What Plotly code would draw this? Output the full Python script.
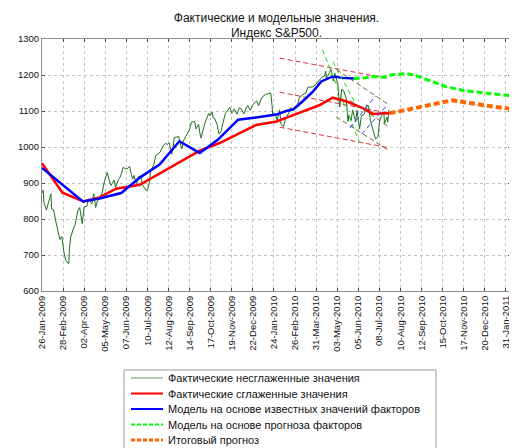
import plotly.graph_objects as go
import pandas as pd

# ---------------- data ----------------
actual_dates = [
    "2009-01-26", "2009-01-28", "2009-01-29", "2009-02-02", "2009-02-05", "2009-02-09", "2009-02-10",
    "2009-02-13", "2009-02-17", "2009-02-20", "2009-02-23", "2009-02-26", "2009-03-02", "2009-03-05",
    "2009-03-09", "2009-03-10", "2009-03-12", "2009-03-17", "2009-03-19", "2009-03-23", "2009-03-26",
    "2009-03-30", "2009-04-02", "2009-04-06", "2009-04-09", "2009-04-14", "2009-04-17", "2009-04-20",
    "2009-04-23", "2009-04-27", "2009-04-30", "2009-05-04", "2009-05-08", "2009-05-11", "2009-05-14",
    "2009-05-19", "2009-05-21", "2009-05-26", "2009-05-29", "2009-06-02", "2009-06-05", "2009-06-08",
    "2009-06-12", "2009-06-15", "2009-06-17", "2009-06-19", "2009-06-23", "2009-06-26", "2009-06-30",
    "2009-07-02", "2009-07-08", "2009-07-10", "2009-07-13", "2009-07-15", "2009-07-17", "2009-07-20",
    "2009-07-23", "2009-07-27", "2009-07-30", "2009-08-03", "2009-08-07", "2009-08-10", "2009-08-13",
    "2009-08-17", "2009-08-19", "2009-08-21", "2009-08-26", "2009-08-28", "2009-09-01", "2009-09-02",
    "2009-09-04", "2009-09-09", "2009-09-11", "2009-09-14", "2009-09-17", "2009-09-22", "2009-09-24",
    "2009-09-28", "2009-10-01", "2009-10-02", "2009-10-06", "2009-10-09", "2009-10-14", "2009-10-16",
    "2009-10-19", "2009-10-21", "2009-10-23", "2009-10-27", "2009-10-30", "2009-11-02", "2009-11-05",
    "2009-11-09", "2009-11-11", "2009-11-16", "2009-11-19", "2009-11-23", "2009-11-27", "2009-12-01",
    "2009-12-04", "2009-12-08", "2009-12-11", "2009-12-14", "2009-12-18", "2009-12-22", "2009-12-28",
    "2009-12-31", "2010-01-04", "2010-01-07", "2010-01-11", "2010-01-14", "2010-01-19", "2010-01-21",
    "2010-01-22", "2010-01-26", "2010-01-29", "2010-02-02", "2010-02-04", "2010-02-08", "2010-02-11",
    "2010-02-16", "2010-02-19", "2010-02-24", "2010-02-26", "2010-03-02", "2010-03-05", "2010-03-10",
    "2010-03-15", "2010-03-18", "2010-03-22", "2010-03-26", "2010-03-30", "2010-04-05", "2010-04-09",
    "2010-04-13", "2010-04-15", "2010-04-16", "2010-04-21", "2010-04-23", "2010-04-27", "2010-04-29",
    "2010-05-04", "2010-05-06", "2010-05-07", "2010-05-10", "2010-05-13", "2010-05-17", "2010-05-20",
    "2010-05-21", "2010-05-25", "2010-05-27", "2010-06-01", "2010-06-03", "2010-06-07", "2010-06-10",
    "2010-06-14", "2010-06-18", "2010-06-21", "2010-06-24", "2010-06-29", "2010-07-01", "2010-07-02",
    "2010-07-06", "2010-07-08", "2010-07-13", "2010-07-15", "2010-07-16", "2010-07-20", "2010-07-21",
    "2010-07-23",
]
actual_values = [
    872, 880, 846, 825, 845, 870, 828,
    827, 790, 770, 743, 752, 700, 682,
    676, 720, 750, 778, 785, 822, 832,
    787, 834, 835, 856, 842, 870, 832,
    851, 857, 872, 907, 929, 909, 893,
    908, 888, 910, 919, 944, 940, 939,
    946, 923, 911, 921, 895, 918, 919,
    896, 879, 880, 901, 932, 940, 951,
    976, 982, 986, 1002, 1010, 1007, 1012,
    980, 996, 1026, 1028, 1029, 998, 995,
    1016, 1033, 1042, 1049, 1069, 1071, 1050,
    1063, 1029, 1025, 1054, 1072, 1093, 1087,
    1097, 1081, 1080, 1063, 1036, 1042, 1066,
    1093, 1098, 1110, 1094, 1106, 1091, 1109,
    1106, 1092, 1106, 1115, 1102, 1118, 1128,
    1115, 1133, 1141, 1146, 1148, 1150, 1116,
    1091, 1092, 1074, 1103, 1063, 1056, 1078,
    1094, 1109, 1105, 1105, 1118, 1138, 1145,
    1150, 1166, 1166, 1167, 1173, 1187, 1194,
    1197, 1211, 1192, 1206, 1217, 1183, 1206,
    1174, 1128, 1111, 1160, 1157, 1136, 1071,
    1088, 1074, 1103, 1070, 1102, 1050, 1087,
    1090, 1117, 1114, 1074, 1041, 1027, 1022,
    1029, 1070, 1095, 1096, 1065, 1083, 1069,
    1103,
]

smooth_dates = ["2009-01-26", "2009-02-27", "2009-04-01", "2009-04-26", "2009-05-22", "2009-06-28",
                "2009-09-30", "2009-10-31", "2009-12-27", "2010-01-28", "2010-02-18", "2010-03-10",
                "2010-04-05", "2010-04-26", "2010-05-17", "2010-06-12", "2010-06-28", "2010-07-09",
                "2010-07-24"]
smooth_values = [955, 873, 849, 860, 884, 895,
                 990, 1011, 1061, 1071, 1085, 1099,
                 1116, 1137, 1127, 1108, 1092, 1093,
                 1094]

known_dates = ["2009-01-26", "2009-03-31", "2009-04-26", "2009-05-30", "2009-06-28", "2009-07-29",
               "2009-08-29", "2009-09-30", "2009-10-28", "2009-11-29", "2009-12-27", "2010-01-28",
               "2010-02-12", "2010-02-23", "2010-03-10", "2010-03-26", "2010-04-08", "2010-04-26",
               "2010-05-12", "2010-05-29"]
known_values = [942, 849, 857, 872, 915, 951,
                1016, 983, 1020, 1076, 1082, 1090,
                1100, 1104, 1127, 1154, 1182, 1196,
                1192, 1190]

fcast_dates = ["2010-05-29", "2010-06-15", "2010-06-28", "2010-07-14", "2010-07-29", "2010-08-19",
               "2010-09-04", "2010-09-25", "2010-10-21", "2010-11-16", "2010-12-12", "2011-01-07",
               "2011-01-31"]
fcast_values = [1190, 1192, 1196, 1194, 1201, 1204,
                1198, 1184, 1167, 1157, 1152, 1146,
                1142]

final_dates = ["2010-07-24", "2010-08-09", "2010-08-25", "2010-09-07", "2010-09-25", "2010-10-21",
               "2010-10-31", "2010-11-16", "2010-12-12", "2011-01-07", "2011-01-31"]
final_values = [1094, 1099, 1105, 1110, 1117, 1127,
                1130, 1125, 1117, 1111, 1106]

# trend channels (start / end)
red_ch_dates = ["2010-02-02", "2010-07-20"]
red_ch_top = [1247, 1191]
red_ch_mid = [1152, 1095]
red_ch_bot = [1055, 999]

green_ch_a_dates = ["2010-04-10", "2010-06-07"]
green_ch_a = [1270, 1012]
green_ch_b_dates = ["2010-04-26", "2010-06-01"]
green_ch_b = [1237, 1120]

olive_top_dates = ["2010-05-02", "2010-07-23"]
olive_top = [1215, 1117]
olive_mid_dates = ["2010-05-23", "2010-07-23"]
olive_mid = [1129, 1056]
olive_bot_dates = ["2010-05-01", "2010-07-23"]
olive_bot = [1084, 990]

blue_ch_a_dates = ["2010-05-23", "2010-07-02"]
blue_ch_a = [1053, 1142]
blue_ch_b_dates = ["2010-06-10", "2010-07-21"]
blue_ch_b = [1035, 1118]

tick_labels = ["26-Jan-2009", "28-Feb-2009", "02-Apr-2009", "05-May-2009", "07-Jun-2009",
               "10-Jul-2009", "12-Aug-2009", "14-Sep-2009", "17-Oct-2009", "19-Nov-2009",
               "22-Dec-2009", "24-Jan-2010", "26-Feb-2010", "31-Mar-2010", "03-May-2010",
               "05-Jun-2010", "08-Jul-2010", "10-Aug-2010", "12-Sep-2010", "15-Oct-2010",
               "17-Nov-2010", "20-Dec-2010", "31-Jan-2011"]

legend_names = ["Фактические несглаженные значения",
                "Фактические сглаженные значения",
                "Модель на основе известных значений факторов",
                "Модель на основе прогноза факторов",
                "Итоговый прогноз"]

# ---------------- figure ----------------
FONT = "Liberation Sans, Arial, sans-serif"
fig = go.Figure()

def chan(x, y, color):
    fig.add_trace(go.Scatter(x=x, y=y, mode="lines", showlegend=False, hoverinfo="skip",
                             line=dict(color=color, width=1, dash="5px,3px")))

chan(red_ch_dates, red_ch_top, "#e0303a")
chan(red_ch_dates, red_ch_mid, "#e0303a")
chan(red_ch_dates, red_ch_bot, "#e0303a")

fig.add_trace(go.Scatter(x=actual_dates, y=actual_values, mode="lines", name=legend_names[0],
                         showlegend=False, line=dict(color="#1f6f1f", width=1)))
fig.add_trace(go.Scatter(x=smooth_dates, y=smooth_values, mode="lines", name=legend_names[1],
                         showlegend=False, line=dict(color="#ff0000", width=2.5)))
fig.add_trace(go.Scatter(x=known_dates, y=known_values, mode="lines", name=legend_names[2],
                         showlegend=False, line=dict(color="#0000ff", width=2.5)))

chan(green_ch_a_dates, green_ch_a, "#22dd22")
chan(green_ch_b_dates, green_ch_b, "#22dd22")
chan(olive_top_dates, olive_top, "#6e6e2a")
chan(olive_mid_dates, olive_mid, "#6e6e2a")
chan(olive_bot_dates, olive_bot, "#6e6e2a")
chan(blue_ch_a_dates, blue_ch_a, "#3344ee")
chan(blue_ch_b_dates, blue_ch_b, "#3344ee")

fig.add_trace(go.Scatter(x=fcast_dates, y=fcast_values, mode="lines", name=legend_names[3],
                         showlegend=False, line=dict(color="#00ff00", width=3, dash="6px,3px")))
fig.add_trace(go.Scatter(x=final_dates, y=final_values, mode="lines", name=legend_names[4],
                         showlegend=False, line=dict(color="#ff6600", width=4, dash="6px,3px")))

tick_vals = pd.date_range("2009-01-26", periods=len(tick_labels), freq="33D")

axis_common = dict(showgrid=True, gridcolor="#c4c4c4", griddash="dot", gridwidth=1,
                   showline=True, linecolor="#8c8c8c", linewidth=1, mirror="ticks",
                   ticks="inside", ticklen=3, tickcolor="#444", zeroline=False,
                   tickfont=dict(family=FONT, size=9.5, color="#111"))

fig.update_xaxes(type="date", range=["2009-01-26", "2011-01-30"], tickvals=tick_vals,
                 ticktext=tick_labels, tickangle=-90, **axis_common)
fig.update_yaxes(range=[600, 1300], tickvals=[600, 700, 800, 900, 1000, 1100, 1200, 1300],
                 **axis_common)

# The page body has an 8px default margin: lay out in reference pixels, then shift.
OFF = 8
W, H = 517 - OFF, 448 - OFF
L, R, T, B = 42, 511, 39, 291          # plot area in reference pixels
def px(xp): return (xp - L) / (R - L)
def py(yp): return (B - yp) / (B - T)

shapes = [dict(type="rect", xref="paper", yref="paper", x0=px(124), x1=px(436), y0=py(370), y1=py(452),
               line=dict(color="#9a9a9a", width=1), fillcolor="white", layer="above")]
styles = [("#5c985c", 1, "solid"), ("#ff0000", 2, "solid"), ("#0000ff", 2, "solid"),
          ("#00ff00", 2, "4px,2px"), ("#ff6600", 3, "4px,2px")]
rows = [378, 393.5, 409, 424.5, 440]
annotations = []
for (col, w, d), yy, name in zip(styles, rows, legend_names):
    shapes.append(dict(type="line", xref="paper", yref="paper", x0=px(131), x1=px(163),
                       y0=py(yy), y1=py(yy), line=dict(color=col, width=w, dash=d), layer="above"))
    annotations.append(dict(xref="paper", yref="paper", x=px(166), y=py(yy), text=name,
                            showarrow=False, xanchor="left", yanchor="middle",
                            font=dict(family=FONT, size=11, color="#111")))

fig.update_layout(
    width=W, height=H,
    margin=dict(l=L - OFF, r=W - (R - OFF), t=T - OFF, b=H - (B - OFF), autoexpand=False),
    paper_bgcolor="white", plot_bgcolor="white",
    title=dict(text="Фактические и модельные значения.<br>Индекс S&amp;P500.",
               x=px(276.5), xref="paper", xanchor="center", y=1 - (21.5 - OFF) / H, yanchor="middle",
               font=dict(family=FONT, size=12, color="#111")),
    shapes=shapes, annotations=annotations, showlegend=False,
)

fig.write_html("out.html")
